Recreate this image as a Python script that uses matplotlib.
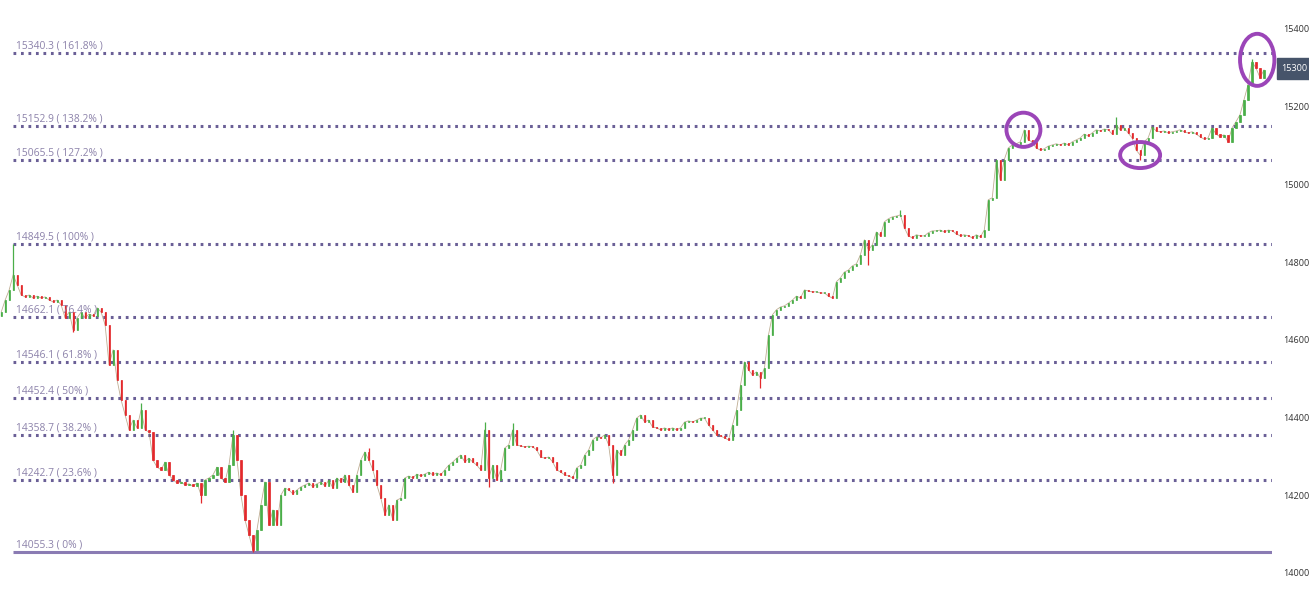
import matplotlib
matplotlib.use("Agg")
import matplotlib.pyplot as plt
from matplotlib.patches import Ellipse
import numpy as np

closes = [
    14674, 14705, 14731, 14770, 14744, 14718, 14713, 14718, 14710, 14715,
    14710, 14713, 14705, 14700, 14705, 14692, 14659, 14674, 14628, 14659,
    14674, 14659, 14669, 14664, 14685, 14674, 14641, 14538, 14577, 14499,
    14448, 14409, 14371, 14396, 14376, 14422, 14371, 14365, 14293, 14275,
    14268, 14288, 14255, 14242, 14234, 14237, 14229, 14232, 14226, 14234,
    14203, 14242, 14247, 14255, 14275, 14247, 14237, 14280, 14358, 14293,
    14203, 14139, 14100, 14062, 14113, 14178, 14237, 14126, 14165, 14126,
    14203, 14221, 14216, 14206, 14216, 14224, 14229, 14234, 14224, 14232,
    14237, 14226, 14242, 14221, 14247, 14237, 14255, 14229, 14211, 14255,
    14293, 14314, 14293, 14268, 14229, 14195, 14152, 14178, 14139, 14190,
    14195, 14247, 14252, 14247, 14257, 14252, 14257, 14262, 14255, 14260,
    14255, 14268, 14280, 14288, 14298, 14306, 14288, 14298, 14288, 14280,
    14268, 14371, 14247, 14280, 14242, 14268, 14324, 14332, 14371, 14332,
    14329, 14327, 14329, 14327, 14319, 14301, 14298, 14301, 14288, 14268,
    14262, 14255, 14252, 14247, 14273, 14280, 14306, 14319, 14345, 14353,
    14350, 14358, 14332, 14255, 14319, 14306, 14332, 14345, 14371, 14401,
    14409, 14391, 14396, 14378, 14376, 14371, 14376, 14371, 14376, 14371,
    14376, 14391, 14394, 14391, 14396, 14401, 14401, 14383, 14371, 14358,
    14355, 14350, 14345, 14383, 14422, 14486, 14546, 14525, 14512, 14520,
    14504, 14530, 14615, 14667, 14680, 14687, 14690, 14697, 14705, 14715,
    14710, 14731, 14728, 14726, 14726, 14723, 14723, 14715, 14710, 14752,
    14762, 14777, 14782, 14793, 14798, 14821, 14860, 14834, 14847, 14880,
    14870, 14906, 14914, 14919, 14921, 14924, 14891, 14870, 14865, 14873,
    14870, 14870, 14878, 14883, 14883, 14885, 14880, 14885, 14883, 14875,
    14870, 14873, 14870, 14865, 14873, 14867, 14885, 14963, 14968, 15066,
    15014, 15066, 15096, 15104, 15107, 15112, 15143, 15117, 15112, 15096,
    15091, 15094, 15101, 15104, 15107, 15104, 15109, 15104, 15112, 15117,
    15122, 15132, 15127, 15135, 15143, 15140, 15145, 15143, 15132, 15156,
    15143, 15148, 15135, 15122, 15091, 15078, 15112, 15122, 15151, 15140,
    15138, 15140, 15135, 15138, 15140, 15143, 15138, 15135, 15138, 15132,
    15125, 15119, 15122, 15148, 15132, 15125, 15130, 15112, 15148, 15164,
    15182, 15220, 15259, 15318, 15302, 15277, 15297,
]

# wick extremes (candle index, price)
spike_idx = [3, 18, 27, 35, 50, 58, 63, 92, 121, 122, 128, 153, 190, 217, 225, 279, 285, 313]
spike_px = [14850, 14623, 14589, 14440, 14183, 14371, 14057, 14324, 14391, 14224,
            14389, 14234, 14478, 14795, 14937, 15176, 15066, 15325]

fib_prices = [15340.3, 15152.9, 15065.5, 14849.5, 14662.1, 14546.1, 14452.4, 14358.7, 14242.7, 14055.3]
fib_pcts = ["161.8%", "138.2%", "127.2%", "100%", "76.4%", "61.8%", "50%", "38.2%", "23.6%", "0%"]

yticks = [14000, 14200, 14400, 14600, 14800, 15000, 15200, 15400]
last_price = 15300
last_price_label = "15300"

# highlighted zones: (center index, center price, width idx, height price)
circles = [(255.8, 15143, 8.5, 88), (285.0, 15078, 10.0, 67), (314.3, 15323, 8.6, 134)]

W, H = 1309, 600
fig = plt.figure(figsize=(W / 100, H / 100), dpi=100)
ax = fig.add_axes([0, 0, 1272 / W, 1])
ax.set_xlim(-0.3, 318)
ax.set_ylim(13933, 15477)
ax.axis("off")

c = np.array(closes, dtype=float)
o = np.concatenate([[c[0] - 10], c[:-1]])
hi = np.maximum(o, c)
lo = np.minimum(o, c)
for i, p in zip(spike_idx, spike_px):
    hi[i] = max(hi[i], p)
    lo[i] = min(lo[i], p)
x = np.arange(len(c))
up = c >= o
green = "#4aae48"
red = "#e3292c"
colors = np.where(up, green, red)
ax.vlines(x, lo, hi, colors=colors, linewidth=0.9, zorder=3)
body_lo = np.minimum(o, c)
body_h = np.maximum(np.abs(c - o), 2.0)
ax.bar(x, body_h, bottom=body_lo, width=0.28, color=colors, edgecolor=colors, linewidth=0.5, zorder=3)
# thin close path to give continuity like dense minute candles
ax.plot(x, c, color="#8a6a3a", linewidth=0.6, alpha=0.55, zorder=2.5)

line_col = "#6a5f96"
x0 = 3
for p, pct in zip(fib_prices, fib_pcts):
    if pct == "0%":
        ax.plot([x0, 318], [p, p], color="#8a7bb3", linewidth=2.2, solid_capstyle="butt", zorder=2)
    else:
        ax.plot([x0, 318], [p, p], color=line_col, linewidth=2.2, linestyle=(0, (0.9, 1.55)),
                dash_capstyle="butt", zorder=2)
    ax.text(x0 + 0.7, p + 4, f"{p:.1f} ( {pct} )", fontsize=7.4, color="#8c82aa",
            family="Open Sans", ha="left", va="bottom", zorder=4)

for (cx, cy, w, h) in circles:
    ax.add_patch(Ellipse((cx, cy), w, h, fill=False, edgecolor="#9b45b8", linewidth=2.8,
                         zorder=5, clip_on=False))

# right price axis
ax2 = fig.add_axes([1272 / W, 0, 1 - 1272 / W, 1])
ax2.set_ylim(13933, 15477)
ax2.set_xlim(0, 37)
ax2.axis("off")
for t in yticks:
    ax2.text(11, t, str(t), fontsize=6.6, color="#333333", family="Open Sans", ha="left", va="center")
ax2.add_patch(plt.Rectangle((5, last_price - 27), 33, 54, color="#46546a", zorder=4, clip_on=False))
ax2.text(9, last_price, last_price_label, fontsize=6.6, color="white", family="Open Sans",
         ha="left", va="center", zorder=5)

fig.savefig("out.png", dpi=100)
